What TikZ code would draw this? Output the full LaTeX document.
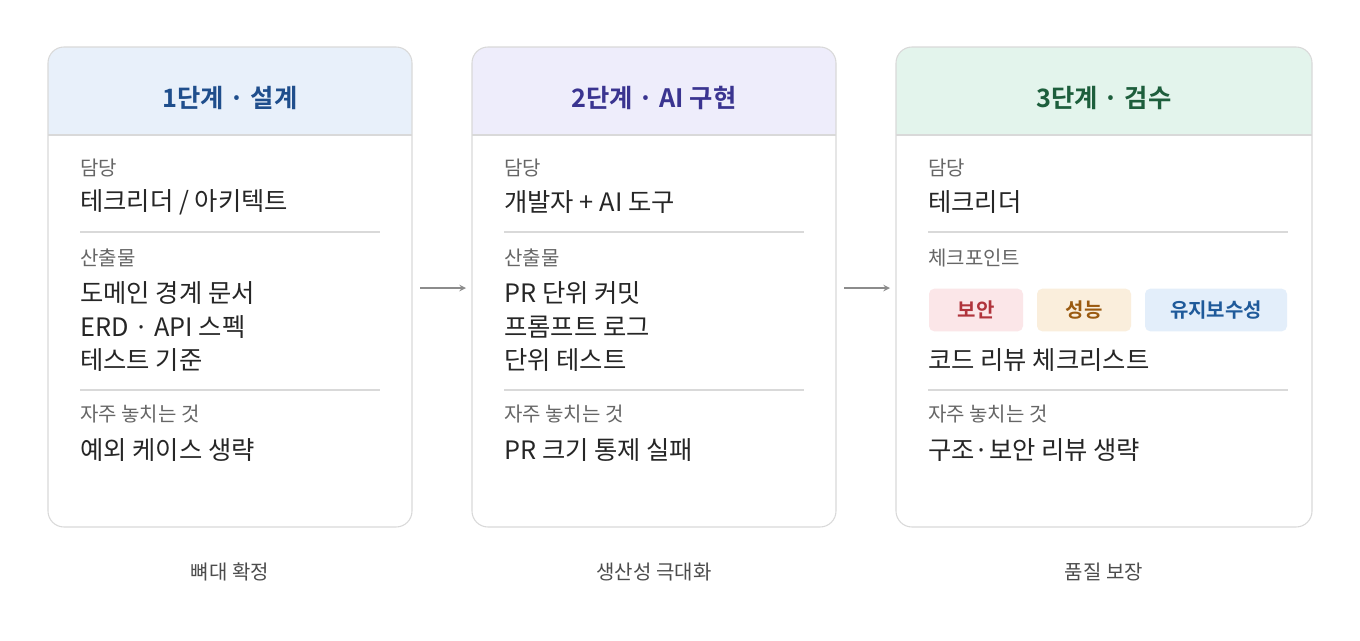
\documentclass[tikz,border=0pt]{standalone}
\usepackage{fontspec}
\setmainfont{Noto Sans CJK KR}
\newfontfamily\krb{Noto Sans CJK KR Bold}
\begin{document}
\begin{tikzpicture}[x=0.75pt,y=-0.75pt,
 card/.style={draw=black!15,line width=0.8pt,rounded corners=12pt},
 lbl/.style={anchor=west,font=\fontsize{15}{17}\selectfont,text=black!60,inner sep=0},
 val/.style={anchor=west,font=\fontsize{19}{22}\selectfont,text=black!85,inner sep=0},
 ttl/.style={font=\krb\fontsize{19}{22}\selectfont},
 captxt/.style={font=\fontsize{15}{17}\selectfont,text=black!70},
 dv/.style={draw=black!15,line width=0.8pt},
 tag/.style={rounded corners=4pt,minimum height=32pt,font=\krb\fontsize{15}{17}\selectfont},
 arr/.style={draw=black!45,line width=1.2pt,->,>=stealth}]
\useasboundingbox[fill=white] (0,0) rectangle (1360,640);
\definecolor{h1}{HTML}{E8F0FA}\definecolor{h2}{HTML}{EEEDFB}\definecolor{h3}{HTML}{E3F4EC}
% card 1
\fill[h1,rounded corners=12pt] (48,47) rectangle (412,135);
\fill[h1] (48,110) rectangle (412,135);
\draw[dv] (48,135) -- (412,135);
\draw[card] (48,47) rectangle (412,527);
\node[ttl,text={rgb,255:red,31;green,78;blue,140}] (t1) at (230,98) {1단계 · 설계};
\node[lbl] (a1) at (80,168) {담당};
\node[val] (b1) at (80,202) {테크리더 / 아키텍트};
\draw[dv] (80,232) -- (380,232);
\node[lbl] (c1) at (80,258) {산출물};
\node[val] (d1) at (80,293) {도메인 경계 문서};
\node[val] (e1) at (80,327) {ERD · API 스펙};
\node[val] (f1) at (80,360) {테스트 기준};
\draw[dv] (80,390) -- (380,390);
\node[lbl] (g1) at (80,414) {자주 놓치는 것};
\node[val] (h1n) at (80,450) {예외 케이스 생략};
% card 2
\fill[h2,rounded corners=12pt] (472,47) rectangle (836,135);
\fill[h2] (472,110) rectangle (836,135);
\draw[dv] (472,135) -- (836,135);
\draw[card] (472,47) rectangle (836,527);
\node[ttl,text={rgb,255:red,58;green,52;blue,144}] (t2) at (654,98) {2단계 · AI 구현};
\node[lbl] (a2) at (504,168) {담당};
\node[val] (b2) at (504,202) {개발자 + AI 도구};
\draw[dv] (504,232) -- (804,232);
\node[lbl] (c2) at (504,258) {산출물};
\node[val] (d2) at (504,293) {PR 단위 커밋};
\node[val] (e2) at (504,327) {프롬프트 로그};
\node[val] (f2) at (504,360) {단위 테스트};
\draw[dv] (504,390) -- (804,390);
\node[lbl] (g2) at (504,414) {자주 놓치는 것};
\node[val] (h2n) at (504,450) {PR 크기 통제 실패};
% card 3
\fill[h3,rounded corners=12pt] (896,47) rectangle (1312,135);
\fill[h3] (896,110) rectangle (1312,135);
\draw[dv] (896,135) -- (1312,135);
\draw[card] (896,47) rectangle (1312,527);
\node[ttl,text={rgb,255:red,29;green,94;blue,60}] (t3) at (1104,98) {3단계 · 검수};
\node[lbl] (a3) at (928,168) {담당};
\node[val] (b3) at (928,202) {테크리더};
\draw[dv] (928,232) -- (1288,232);
\node[lbl] (c3) at (928,258) {체크포인트};
\node[tag,fill={rgb,255:red,251;green,230;blue,232},text={rgb,255:red,176;green,52;blue,60},minimum width=70.5pt] (p1) at (976,310) {보안};
\node[tag,fill={rgb,255:red,250;green,238;blue,220},text={rgb,255:red,154;green,90;blue,16},minimum width=70.5pt] (p2) at (1084,310) {성능};
\node[tag,fill={rgb,255:red,227;green,238;blue,250},text={rgb,255:red,31;green,90;blue,154},minimum width=106.5pt] (p3) at (1216,310) {유지보수성};
\node[val] (f3) at (928,360) {코드 리뷰 체크리스트};
\draw[dv] (928,390) -- (1288,390);
\node[lbl] (g3) at (928,414) {자주 놓치는 것};
\node[val] (h3n) at (928,450) {구조·보안 리뷰 생략};
% arrows
\coordinate (s1) at (420,288); \coordinate (e1a) at (466,288);
\coordinate (s2) at (844,288); \coordinate (e2a) at (890,288);
\draw[arr] (s1) -- (e1a);
\draw[arr] (s2) -- (e2a);
% captions
\node[captxt] (k1) at (230,572) {뼈대 확정};
\node[captxt] (k2) at (654,572) {생산성 극대화};
\node[captxt] (k3) at (1104,572) {품질 보장};
\end{tikzpicture}
\end{document}
